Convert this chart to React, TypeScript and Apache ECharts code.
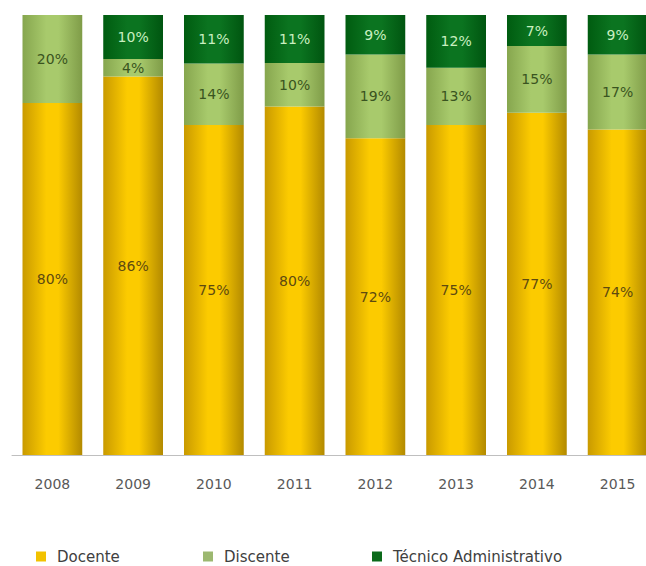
import React, { useEffect, useRef } from "react";
import * as echarts from "echarts";

const years = ["2008", "2009", "2010", "2011", "2012", "2013", "2014", "2015"];
const docente = [80, 86, 75, 80, 72, 75, 77, 74];
const discente = [20, 4, 14, 10, 19, 13, 15, 17];
const tecnico = [0, 10, 11, 11, 9, 12, 7, 9];
const seriesNames = ["Docente", "Discente", "Técnico Administrativo"];

const FONT = "DejaVu Sans";

function grad(edgeL: string, mid: string, edgeR: string) {
  return new echarts.graphic.LinearGradient(0, 0, 1, 0, [
    { offset: 0, color: edgeL },
    { offset: 0.4, color: mid },
    { offset: 0.6, color: mid },
    { offset: 1, color: edgeR },
  ]);
}

export default function App() {
  const ref = useRef<HTMLDivElement>(null);
  useEffect(() => {
    if (!ref.current) return;
    const chart = echarts.init(ref.current, null, { renderer: "svg" });
    const totals = years.map((_, i) => docente[i] + discente[i] + tecnico[i]);
    const norm = (arr: number[]) => arr.map((v, i) => (v / totals[i]) * 100);
    const raw = [docente, discente, tecnico];
    const labelColors = ["#5e4a10", "#3a5420", "#c9efc0"];
    const fills = [
      grad("#c99a00", "#fccb00", "#b38a00"),
      grad("#86a64e", "#a8ca6c", "#7f9c48"),
      grad("#005c10", "#0b7420", "#005510"),
    ];
    const legendColors = ["#f2c200", "#9cb870", "#0b6a1a"];
    const legendLefts = [36, 203, 372];
    chart.setOption({
      animation: false,
      grid: { left: 12, top: 15, width: 646, height: 440 },
      xAxis: {
        type: "category",
        data: years,
        axisLine: { lineStyle: { color: "#bfbfbf", width: 1 } },
        axisTick: { show: false },
        axisLabel: { color: "#595959", fontSize: 14, fontFamily: FONT, margin: 22 },
      },
      yAxis: { type: "value", min: 0, max: 100, show: false, splitLine: { show: false } },
      legend: seriesNames.map((n, k) => ({
        data: [{ name: n, itemStyle: { color: legendColors[k] } }],
        left: legendLefts[k],
        top: 549,
        padding: 0,
        icon: "rect",
        itemWidth: 10,
        itemHeight: 10,
        textStyle: { color: "#404040", fontSize: 15, fontFamily: FONT, padding: [0, 0, 0, 6] },
      })),
      series: [docente, discente, tecnico].map((arr, k) => ({
        name: seriesNames[k],
        type: "bar",
        stack: "total",
        barCategoryGap: "26%",
        data: norm(arr),
        itemStyle: { color: fills[k] },
        label: {
          show: true,
          position: "inside",
          fontSize: 14,
          fontFamily: FONT,
          color: labelColors[k],
          formatter: (p: any) => (raw[k][p.dataIndex] > 0 ? raw[k][p.dataIndex] + "%" : ""),
        },
      })),
    });
    return () => chart.dispose();
  }, []);
  return (
    <div
      style={{ position: "absolute", left: 0, top: 0, width: 646, height: 566, overflow: "hidden", background: "#fff" }}
    >
      <div ref={ref} style={{ width: 680, height: 566 }} />
    </div>
  );
}
